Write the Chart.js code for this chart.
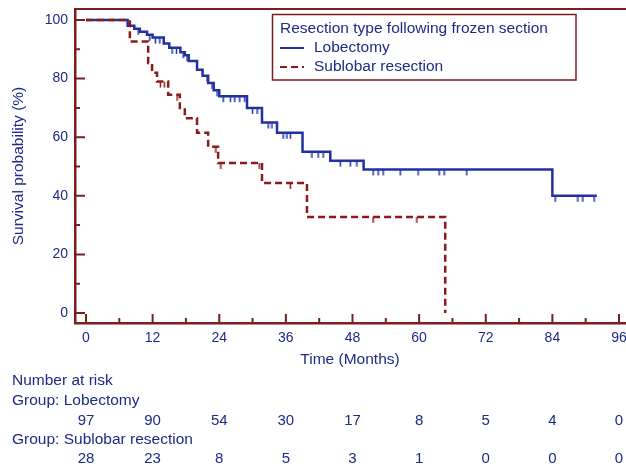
<!DOCTYPE html>
<html>
<head>
<meta charset="utf-8">
<script src="https://cdn.jsdelivr.net/npm/chart.js@4.4.1/dist/chart.umd.min.js"></script>
<style>
html, body { margin: 0; padding: 0; background: #fff; }
#wrap { width: 626px; height: 467px; }
</style>
</head>
<body>
<div id="wrap"><canvas id="kmChart"></canvas></div>
<script>
// Curvas de supervivencia (meses, %)
const lobTimes = [0, 7.5, 8.7, 9.7, 11, 12, 14, 15, 17, 17.8, 18.5, 20, 21, 22, 23, 24, 29, 31.7, 34.4, 39, 44, 50, 84, 92];
const lobSurv  = [100, 98, 97, 96, 95, 94, 92, 90.5, 89, 88, 86, 83, 81, 78.5, 76, 74, 70, 65, 61.5, 55, 52, 49, 40, 40];
const subTimes = [0, 7.9, 11.2, 11.9, 12.8, 14.8, 16.9, 17.8, 20, 22, 23.8, 31.7, 39.8, 64.7];
const subSurv  = [100, 92.7, 85.3, 82, 79, 74.5, 70, 66.5, 61.5, 56.7, 51.2, 44.4, 32.8, 0];

// Censuras (marcas verticales)
const lobCensor = [9.4, 11.5, 12.5, 13.3, 15.5, 16.3, 17.5, 18.2, 21.8, 22.7, 23.6, 24.7, 26, 26.8, 27.7, 28.6,
  30, 30.8, 32.8, 33.5, 35.5, 36.2, 36.8, 40.7, 41.8, 42.7, 45.8, 47.6, 48.8, 51.7, 52.6, 53.5, 56.6, 59.8,
  63.6, 64.5, 68.6, 84.5, 88.6, 89.5, 91.5];
const subCensor = [13.4, 14.1, 16.4, 23.4, 24.3, 31.2, 36.8, 51.7, 59.6];

// Ejes
const xTicks = [0, 12, 24, 36, 48, 60, 72, 84, 96];
const xMinor = [6, 18, 30, 42, 54, 66, 78, 90];
const yTicks = [0, 20, 40, 60, 80, 100];
const yMinor = [10, 30, 50, 70, 90];

// Número en riesgo
const riskLob = [97, 90, 54, 30, 17, 8, 5, 4, 0];
const riskSub = [28, 23, 8, 5, 3, 1, 0, 0, 0];

const AXIS = '#7b1e1e';
const TEXT = '#1e2a86';
const BLUE = '#2330a2';
const RED = '#8c1a1a';
const FONT = "'Liberation Sans', Arial, sans-serif";
const FS = 15.5;

function toPoints(t, s) { return t.map((v, i) => ({ x: v, y: s[i] })); }
function survAt(t, times, surv) {
  let v = surv[0];
  for (let i = 0; i < times.length; i++) if (times[i] <= t) v = surv[i];
  return v;
}
function tickMark(color) {
  const c = document.createElement('canvas');
  c.width = 3; c.height = 14;
  const g = c.getContext('2d');
  g.strokeStyle = color; g.lineWidth = 1.5;
  g.beginPath(); g.moveTo(1.5, 7); g.lineTo(1.5, 13); g.stroke();
  return c;
}

const extras = {
  id: 'extras',
  afterDraw(chart) {
    const { ctx, chartArea: a, scales: { x, y } } = chart;
    ctx.save();
    // marcas hacia dentro
    ctx.strokeStyle = AXIS; ctx.lineWidth = 2;
    ctx.beginPath();
    yTicks.forEach(v => { const p = y.getPixelForValue(v); ctx.moveTo(a.left, p); ctx.lineTo(a.left + 10, p); });
    yMinor.forEach(v => { const p = y.getPixelForValue(v); ctx.moveTo(a.left, p); ctx.lineTo(a.left + 5, p); });
    xTicks.forEach(v => { const p = x.getPixelForValue(v); ctx.moveTo(p, a.bottom); ctx.lineTo(p, a.bottom - 9); });
    xMinor.forEach(v => { const p = x.getPixelForValue(v); ctx.moveTo(p, a.bottom); ctx.lineTo(p, a.bottom - 5); });
    ctx.stroke();
    // borde superior
    ctx.beginPath(); ctx.moveTo(a.left, a.top); ctx.lineTo(chart.width, a.top); ctx.stroke();

    // leyenda
    ctx.lineWidth = 1.5;
    ctx.strokeRect(272.5, 14.5, 303.5, 65.5);
    ctx.fillStyle = TEXT;
    ctx.font = FS + 'px ' + FONT;
    ctx.textBaseline = 'middle';
    ctx.textAlign = 'left';
    ctx.fillText('Resection type following frozen section', 280, 29);
    const ds = chart.data.datasets;
    [0, 1].forEach((k, i) => {
      const yy = 48 + i * 19;
      ctx.strokeStyle = ds[k].borderColor;
      ctx.lineWidth = 2;
      ctx.setLineDash(ds[k].borderDash || []);
      ctx.beginPath(); ctx.moveTo(280, yy); ctx.lineTo(304, yy); ctx.stroke();
      ctx.setLineDash([]);
      ctx.fillText(ds[k].label, 314, yy);
    });

    // tabla de número en riesgo
    ctx.fillText('Number at risk', 12, 381);
    ctx.fillText('Group: Lobectomy', 12, 401);
    ctx.fillText('Group: Sublobar resection', 12, 440);
    ctx.textAlign = 'center';
    ctx.font = '15px ' + FONT;
    xTicks.forEach((t, i) => {
      const px = x.getPixelForValue(t);
      ctx.fillText(String(riskLob[i]), px, 421);
      ctx.fillText(String(riskSub[i]), px, 459);
    });
    ctx.restore();
  }
};

const lobTick = tickMark(BLUE);
const subTick = tickMark(RED);

new Chart(document.getElementById('kmChart'), {
  type: 'line',
  data: {
    datasets: [
      {
        label: 'Lobectomy',
        data: toPoints(lobTimes, lobSurv),
        borderColor: BLUE, borderWidth: 2.5, stepped: true,
        pointRadius: 0, fill: false, order: 2
      },
      {
        label: 'Sublobar resection',
        data: toPoints(subTimes, subSurv),
        borderColor: RED, borderWidth: 2.5, borderDash: [7, 4], stepped: true,
        pointRadius: 0, fill: false, order: 1
      },
      {
        label: 'Lobectomy censored',
        data: lobCensor.map(t => ({ x: t, y: survAt(t, lobTimes, lobSurv) })),
        showLine: false, pointStyle: lobTick, pointRadius: 5, borderColor: BLUE, order: 3
      },
      {
        label: 'Sublobar censored',
        data: subCensor.map(t => ({ x: t, y: survAt(t, subTimes, subSurv) })),
        showLine: false, pointStyle: subTick, pointRadius: 5, borderColor: RED, order: 0
      }
    ]
  },
  options: {
    responsive: true,
    maintainAspectRatio: false,
    animation: false,
    layout: { autoPadding: false, padding: { top: 9, right: 1, left: 0, bottom: 0 } },
    plugins: { legend: { display: false }, tooltip: { enabled: false } },
    scales: {
      x: {
        type: 'linear', min: -1.98, max: 97.08,
        grid: { display: false, drawTicks: false },
        border: { display: true, color: AXIS, width: 2.5 },
        ticks: { color: TEXT, font: { family: FONT, size: 14 }, padding: 7, maxRotation: 0, autoSkip: false },
        title: { display: true, text: 'Time (Months)', color: TEXT, font: { family: FONT, size: FS }, padding: { top: 0, bottom: 98 } },
        afterBuildTicks: s => { s.ticks = xTicks.map(v => ({ value: v })); },
        afterFit: s => { s.height = 144; s.paddingLeft = 0; s.paddingRight = 0; }
      },
      y: {
        type: 'linear', min: -3.41, max: 103.75,
        grid: { display: false, drawTicks: false },
        border: { display: true, color: AXIS, width: 2.5 },
        ticks: { color: TEXT, font: { family: FONT, size: 14 }, padding: 7 },
        title: { display: true, text: 'Survival probability (%)', color: TEXT, font: { family: FONT, size: FS }, padding: { top: 9, bottom: 0 } },
        afterBuildTicks: s => { s.ticks = yTicks.map(v => ({ value: v })); },
        afterFit: s => { s.width = 75; s.paddingTop = 0; s.paddingBottom = 0; }
      }
    }
  },
  plugins: [extras]
});
</script>
</body>
</html>
